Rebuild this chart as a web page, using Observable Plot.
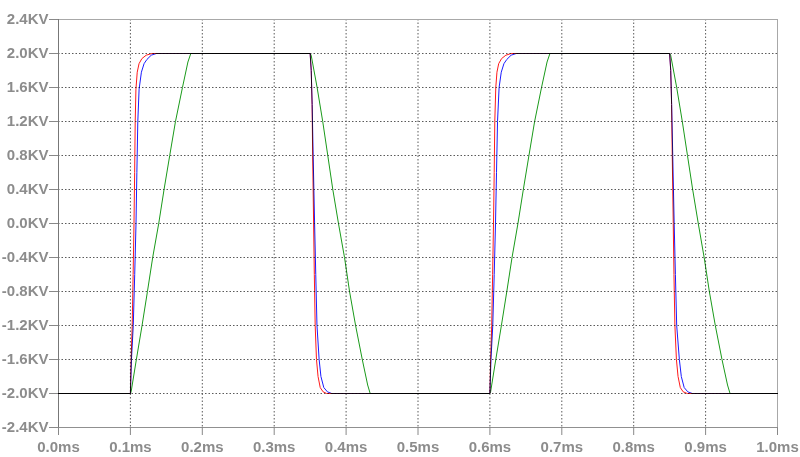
<!DOCTYPE html>
<html><head><meta charset="utf-8">
<script src="https://cdn.jsdelivr.net/npm/d3@7"></script>
<script src="https://cdn.jsdelivr.net/npm/@observablehq/plot@0.6"></script>
<style>
html,body{margin:0;padding:0;background:#fff;}
#chart svg text{font-family:"Liberation Sans",Arial,sans-serif;font-weight:bold;font-size:15px;fill:#8c8c8c;}
</style></head><body><div id="chart"></div>
<script>
// tick values
const xTicks = [0.0,0.1,0.2,0.3,0.4,0.5,0.6,0.7,0.8,0.9,1.0];          // ms
const yTicks = [-2.4,-2.0,-1.6,-1.2,-0.8,-0.4,0.0,0.4,0.8,1.2,1.6,2.0,2.4]; // KV

// series: [time (ms), voltage (KV)]
const red = [
  [0,-2],[0.1,-2],[0.101,-1.6],[0.1025,-1.2],[0.1038,-0.6],[0.105,0],[0.1059,0.6],[0.1067,1.2],[0.1077,1.58],
  [0.1095,1.78],[0.112,1.88],[0.116,1.94],[0.122,1.98],[0.13,2],
  [0.35,2],[0.3515,1.8],[0.3527,1.4],[0.3535,0.8],[0.3548,0],[0.3558,-0.6],[0.357,-1.2],[0.3588,-1.6],
  [0.361,-1.8],[0.364,-1.93],[0.368,-1.98],[0.373,-2],
  [0.6,-2],[0.601,-1.6],[0.6025,-1.2],[0.6038,-0.6],[0.605,0],[0.606,0.6],[0.6068,1.2],[0.6082,1.6],
  [0.6098,1.78],[0.6122,1.88],[0.6162,1.94],[0.6222,1.98],[0.6295,2],
  [0.85,2],[0.8515,1.8],[0.8527,1.4],[0.8536,0.8],[0.855,0],[0.856,-0.6],[0.8573,-1.2],[0.8594,-1.6],
  [0.8617,-1.8],[0.8648,-1.93],[0.8688,-1.98],[0.8745,-2],
  [1.0,-2]
];
const blue = [
  [0,-2],[0.1,-2],[0.1015,-1.6],[0.104,-1.2],[0.106,-0.6],[0.1078,0],[0.109,0.6],[0.1103,1.2],[0.1121,1.58],
  [0.1153,1.78],[0.119,1.88],[0.123,1.93],[0.129,1.98],[0.136,2],
  [0.35,2],[0.3515,1.8],[0.3528,1.4],[0.3542,0.8],[0.3562,0],[0.3578,-0.6],[0.3595,-1.2],[0.3625,-1.6],
  [0.365,-1.8],[0.369,-1.93],[0.374,-1.98],[0.38,-2],
  [0.6,-2],[0.6015,-1.6],[0.604,-1.2],[0.606,-0.6],[0.6078,0],[0.6092,0.6],[0.6106,1.2],[0.6128,1.6],
  [0.6158,1.78],[0.6195,1.88],[0.6235,1.93],[0.6295,1.98],[0.6365,2],
  [0.85,2],[0.8515,1.8],[0.8528,1.4],[0.8543,0.8],[0.8563,0],[0.858,-0.6],[0.8598,-1.2],[0.8635,-1.6],
  [0.8662,-1.8],[0.8702,-1.93],[0.8752,-1.98],[0.8815,-2],
  [1.0,-2]
];
const green = [
  [0,-2],[0.1,-2],[0.101,-1.98],[0.1083,-1.6],[0.1162,-1.2],[0.1237,-0.8],[0.131,-0.4],[0.1394,0],
  [0.1468,0.4],[0.1547,0.8],[0.1627,1.2],[0.1724,1.6],[0.18,1.9],[0.184,2],
  [0.35,2],[0.3514,1.98],[0.3597,1.6],[0.3675,1.2],[0.3745,0.8],[0.3815,0.4],[0.3894,0],[0.3978,-0.4],
  [0.4048,-0.8],[0.4132,-1.2],[0.4225,-1.6],[0.43,-1.9],[0.4335,-2],
  [0.6,-2],[0.601,-1.98],[0.6082,-1.6],[0.616,-1.2],[0.6235,-0.8],[0.6308,-0.4],[0.639,0],
  [0.6465,0.4],[0.6543,0.8],[0.6622,1.2],[0.6718,1.6],[0.6795,1.9],[0.6835,2],
  [0.85,2],[0.8514,1.98],[0.8598,1.6],[0.8676,1.2],[0.8748,0.8],[0.882,0.4],[0.8898,0],[0.898,-0.4],
  [0.9052,-0.8],[0.9135,-1.2],[0.9228,-1.6],[0.9305,-1.9],[0.934,-2],
  [1.0,-2]
];

const lineOpts = (color) => ({x: d => d[0], y: d => d[1], stroke: color, strokeWidth: 1, mixBlendMode: "multiply", curve: "linear"});

const chart = Plot.plot({
  width: 800, height: 457,
  marginLeft: 58, marginRight: 23, marginTop: 19, marginBottom: 30,
  style: {background: "#fff", overflow: "visible"},
  x: {domain: [0, 1]},
  y: {domain: [-2.4, 2.4]},
  marks: [
    Plot.gridX(xTicks.slice(1, -1), {stroke: "#5a5a5a", strokeOpacity: 1, strokeDasharray: "1.5,2"}),
    Plot.gridY(yTicks.slice(1, -1), {stroke: "#5a5a5a", strokeOpacity: 1, strokeDasharray: "1.5,2"}),
    Plot.frame({stroke: "#a8a8a8"}),
    Plot.ruleX(xTicks.slice(0, 1), {stroke: "#777"}),
    Plot.ruleY(yTicks.slice(0, 1), {stroke: "#909090"}),
    Plot.axisY(yTicks, {tickSize: 9, tickPadding: 1, tickFormat: d => d.toFixed(1) + "KV", stroke: "#888", label: null}),
    Plot.axisX(xTicks, {tickSize: 8, tickPadding: 6, tickFormat: d => d.toFixed(1) + "ms", stroke: "#888", label: null}),
    Plot.line(green, lineOpts("#1a9a1a")),
    Plot.line(red, lineOpts("#ff1a1a")),
    Plot.line(blue, lineOpts("#1a1aff"))
  ]
});
document.getElementById("chart").appendChild(chart);
</script>
</body></html>
